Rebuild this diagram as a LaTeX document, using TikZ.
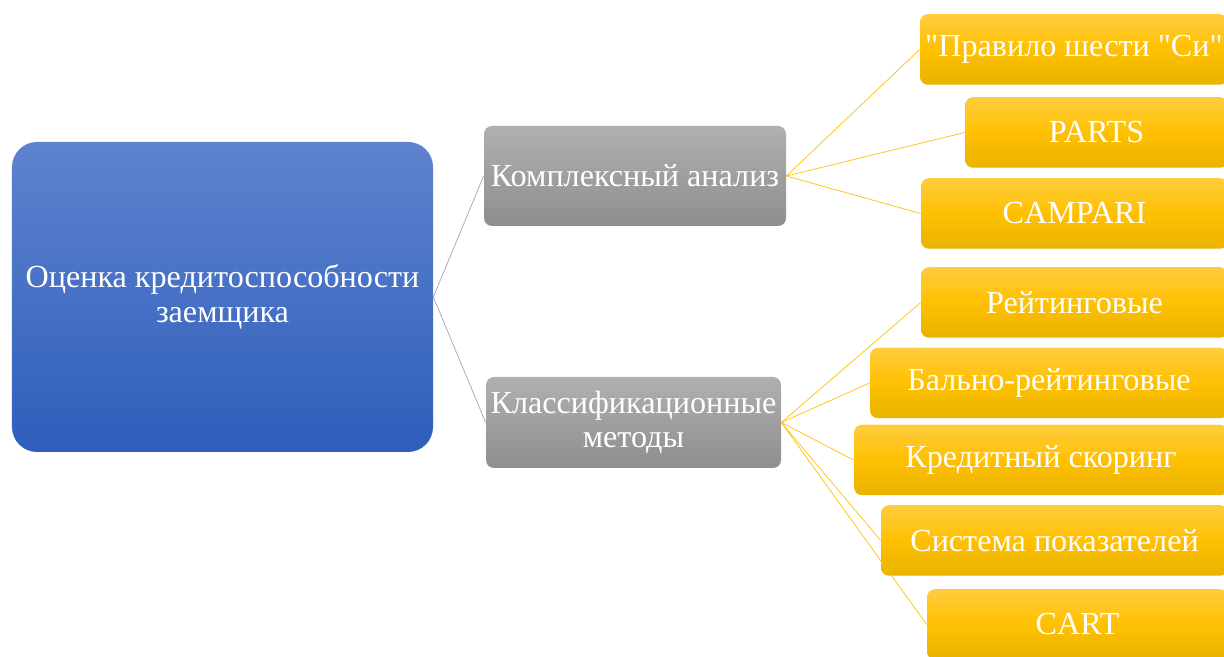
\documentclass[tikz,border=0pt]{standalone}
\usepackage{fontspec}
\newfontfamily\boxfont{Liberation Serif}
\definecolor{bluetop}{RGB}{94,131,206}
\definecolor{bluebot}{RGB}{46,94,187}
\definecolor{graytop}{RGB}{176,176,176}
\definecolor{graybot}{RGB}{142,142,142}
\definecolor{ocretop}{RGB}{255,204,62}
\definecolor{ocre}{RGB}{255,192,0}
\definecolor{ocrebot}{RGB}{232,179,0}
\tikzset{
  box/.style={rounded corners=0.16cm, text=white, align=center, inner sep=2pt,
    font=\boxfont\fontsize{18.3}{19.8}\selectfont},
  rootbox/.style={box, rounded corners=0.5cm, top color=bluetop, bottom color=bluebot},
  midbox/.style={box, top color=graytop, bottom color=graybot},
  leafbox/.style={box, minimum height=1.41cm, top color=ocretop, bottom color=ocrebot, middle color=ocre},
  graylink/.style={gray!70, thin},
  ocrelink/.style={ocre, thin}
}
\begin{document}
\begin{tikzpicture}
\useasboundingbox (0,0) rectangle (24.48,13.14);
\clip (0,0) rectangle (24.48,13.14);

\node [rootbox, minimum width=8.42cm, minimum height=6.2cm] (ocenka) at (4.45,7.2) {Оценка кредитоспособности\\заемщика};

\node [midbox, minimum width=6.04cm, minimum height=2cm] (kompleks) at (12.7,9.62) {Комплексный анализ};
\node [midbox, minimum width=5.9cm, minimum height=1.82cm] (klass) at (12.67,4.69) {Классификационные\\методы};

\node [leafbox, minimum width=6.16cm] (pravilo) at (21.48,12.15) {"Правило шести "Си"};
\node [leafbox, minimum width=5.26cm] (parts) at (21.93,10.49) {PARTS};
\node [leafbox, minimum width=6.14cm] (campari) at (21.49,8.87) {CAMPARI};
\node [leafbox, minimum width=6.14cm] (reiting) at (21.49,7.09) {Рейтинговые};
\node [leafbox, minimum width=7.16cm] (balno) at (20.98,5.48) {Бально-рейтинговые};
\node [leafbox, minimum width=7.48cm] (skoring) at (20.82,3.94) {Кредитный скоринг};
\node [leafbox, minimum width=6.94cm] (sistema) at (21.09,2.33) {Система показателей};
\node [leafbox, minimum width=6.02cm] (cart) at (21.55,0.65) {CART};

\draw [graylink] (ocenka.east)--(kompleks.west);
\draw [graylink] (ocenka.east)--(klass.west);

\foreach \n in {pravilo,parts,campari}
  \draw [ocrelink] (kompleks.east)--(\n.west);
\foreach \n in {reiting,balno,skoring,sistema,cart}
  \draw [ocrelink] (klass.east)--(\n.west);

\end{tikzpicture}
\end{document}
